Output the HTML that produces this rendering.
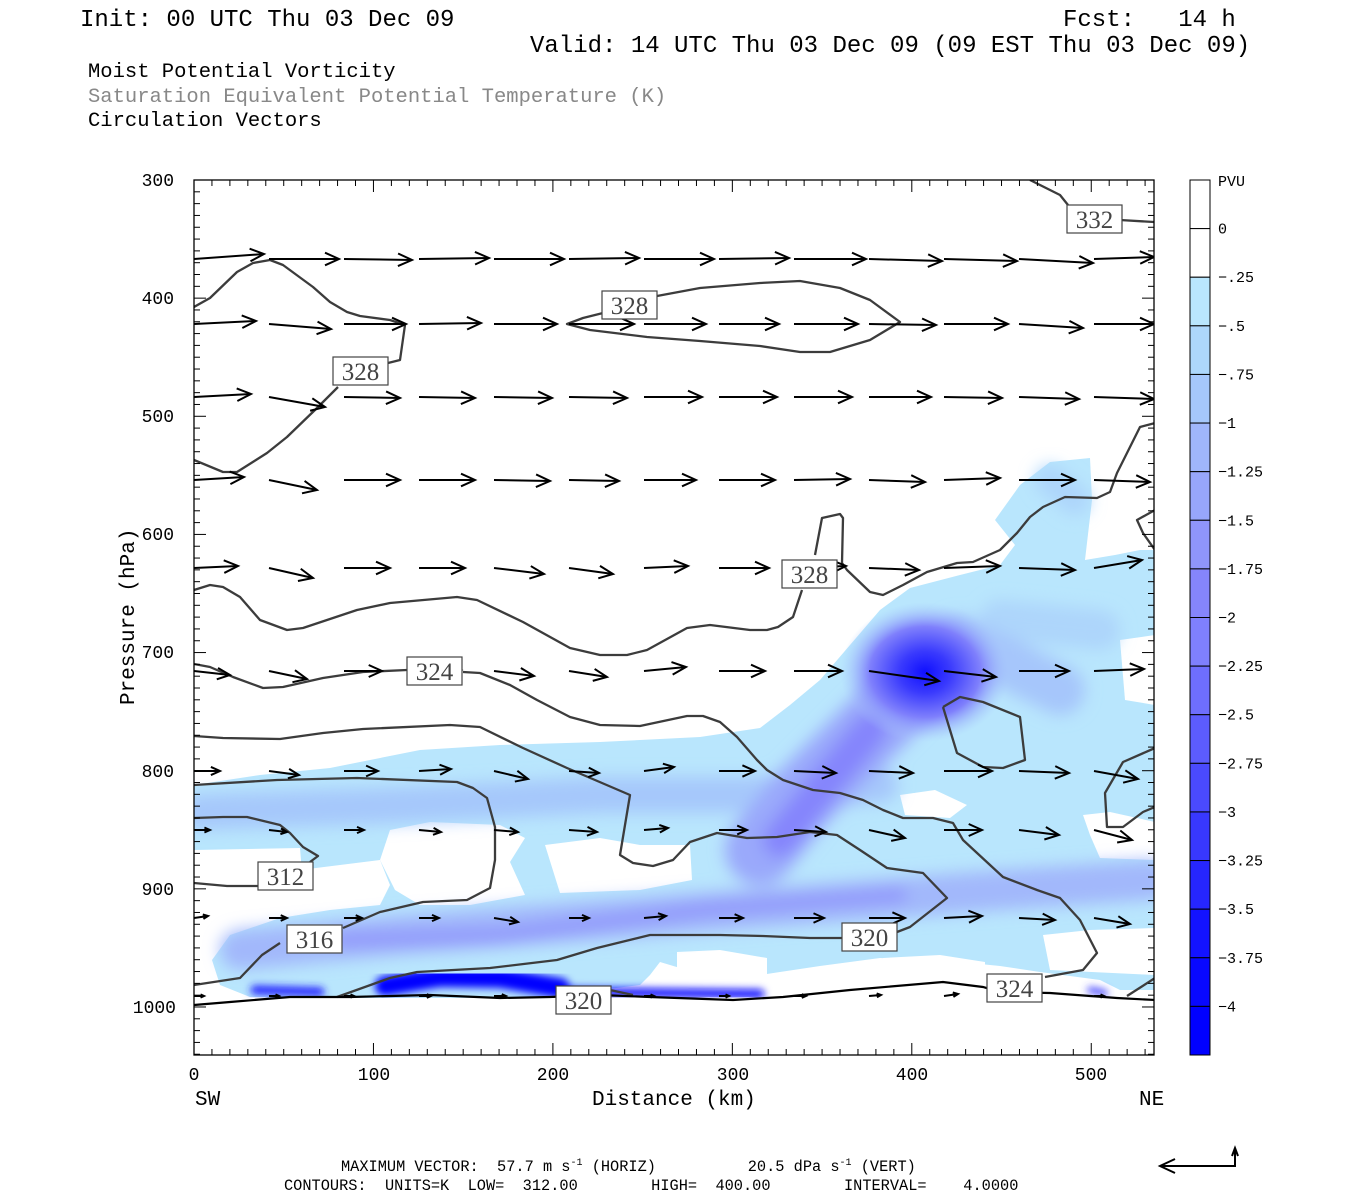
<!DOCTYPE html>
<html><head><meta charset="utf-8">
<style>
html,body{margin:0;padding:0;background:#fff;}
svg{display:block;}
.t{font-family:"Liberation Mono",monospace;}
.pre{white-space:pre;}
</style></head>
<body>
<svg id="s" width="1350" height="1200" xmlns="http://www.w3.org/2000/svg">
<defs>
<clipPath id="pc"><rect x="194" y="180" width="960" height="875"/></clipPath>
<filter id="b1" x="-20%" y="-20%" width="140%" height="140%"><feGaussianBlur stdDeviation="8"/></filter>
<filter id="b2" x="-20%" y="-20%" width="140%" height="140%"><feGaussianBlur stdDeviation="4"/></filter>
<radialGradient id="core" cx="0.5" cy="0.5" r="0.5">
<stop offset="0" stop-color="#1010ff"/><stop offset="0.3" stop-color="#3a3afd"/><stop offset="0.65" stop-color="#7f80fc"/><stop offset="1" stop-color="#a6c6fb" stop-opacity="0"/>
</radialGradient>
</defs>
<g class="t" fill="#000">
<text x="80" y="26" font-size="24">Init: 00 UTC Thu 03 Dec 09</text>
<text x="1063" y="26" font-size="24" class="pre">Fcst:   14 h</text>
<text x="530" y="52" font-size="24">Valid: 14 UTC Thu 03 Dec 09 (09 EST Thu 03 Dec 09)</text>
<text x="88" y="77" font-size="20.5">Moist Potential Vorticity</text>
<text x="88" y="102" font-size="20.5" fill="#888">Saturation Equivalent Potential Temperature (K)</text>
<text x="88" y="126" font-size="20.5">Circulation Vectors</text>
</g>
<g clip-path="url(#pc)">
<path fill="#b9e6fd" d="M194,785 L260,775 330,768 420,750 500,745 600,742 700,737 760,728 790,705 820,680 850,645 880,610 910,588 960,575 1000,565 1015,545 995,520 1020,485 1050,462 1090,458 1092,500 1085,560 1115,555 1140,550 1154,550 1154,990 1120,990 1100,980 1040,972 1000,966 960,962 920,960 880,958 850,962 820,966 780,972 740,978 700,978 680,968 660,962 650,975 640,985 600,990 560,995 500,998 400,998 300,998 250,997 220,985 212,960 230,935 280,918 330,910 380,905 390,885 380,860 300,870 240,880 194,885 Z"/>
<g fill="#fff">
<path d="M390,830 430,822 500,825 525,838 510,862 525,895 470,905 420,905 395,890 380,860 Z"/>
<path d="M545,845 600,838 640,845 690,845 692,880 640,890 560,893 Z"/>
<path d="M900,795 935,790 967,805 950,818 905,815 Z"/>
<path d="M1083,815 1110,812 1155,822 1155,860 1100,858 1090,835 Z"/>
<path d="M194,850 300,848 303,885 250,900 194,900 Z"/>
<path d="M1043,935 1090,930 1155,928 1155,975 1050,970 Z"/>
<path d="M883,958 940,955 985,962 985,982 890,982 Z"/>
<path d="M677,952 720,950 767,958 767,983 677,983 Z"/>
<path d="M1120,640 1155,635 1155,705 1125,700 Z"/>
<rect x="194" y="998" width="960" height="60"/>
</g>
<g filter="url(#b1)" fill="none" stroke-linecap="round">
<path d="M200,812 L400,805 600,795 750,795 880,785" stroke="#a6c8fb" stroke-width="36"/>
<path d="M240,950 L400,935 600,920 800,905 1000,890 1150,880" stroke="#a2b8fb" stroke-width="40"/>
<path d="M340,940 L500,935 700,910 900,895" stroke="#8f94fb" stroke-width="14"/>
<path d="M760,850 L800,800 850,750 900,700" stroke="#9aa9fb" stroke-width="70"/>
<path d="M780,840 L820,790 870,730" stroke="#8585fc" stroke-width="34"/>
<path d="M1050,480 L1075,500" stroke="#add5fb" stroke-width="30"/>
<path d="M1000,620 L1100,630" stroke="#add5fb" stroke-width="40"/>
<path d="M960,640 L1060,690" stroke="#a6c6fb" stroke-width="50"/>
</g>
<ellipse cx="925" cy="672" rx="85" ry="70" fill="url(#core)"/>
<g filter="url(#b2)" fill="none" stroke-linecap="round">
<path d="M255,990 L320,992" stroke="#2020ff" stroke-width="9"/>
<path d="M385,986 L440,977 500,978 560,988" stroke="#0000ff" stroke-width="20"/>
<path d="M560,992 L760,994" stroke="#1010ff" stroke-width="9"/>
<path d="M1090,990 L1105,993" stroke="#4040ff" stroke-width="6"/>
</g>
<rect x="194" y="999" width="960" height="60" fill="#fff"/>
<g fill="none" stroke="#3c3c3c" stroke-width="2.3" stroke-linejoin="round">
<polyline points="194,307 210,298 237,272 253,263 270,260 283,265 313,287 330,302 347,312 360,316 390,320 405,325 400,360 388,363"/>
<polyline points="338,387 317,408 287,437 267,453 237,472 223,472 194,460"/>
<polyline points="603,313 583,318 567,324 590,330 647,337 700,341 760,346 800,352 830,352 870,340 900,322 870,300 840,288 800,281 760,283 700,288 657,296"/>
<polyline points="1030,180 1060,195 1068,205"/><polyline points="1120,220 1154,222"/>
<polyline points="194,590 210,585 223,587 240,597 260,620 287,630 303,628 357,610 390,603 457,597 477,600 523,622 570,648 600,655 627,655 647,650 687,628 710,625 750,630 767,630 778,627 793,617 802,590"/>
<polyline points="815,555 822,518 840,514 843,518 842,563 847,570 870,592 883,595 903,585 927,572 957,563 973,562 1000,550 1017,533 1030,517 1043,507 1065,497 1097,498 1110,492 1117,473 1140,427 1155,423"/>
<polyline points="1155,510 1137,520 1143,533 1155,550"/>
<polyline points="194,664 210,667 233,677 263,688 283,687 323,678 363,672 407,670"/>
<polyline points="463,672 480,673 510,685 537,700 570,717 600,725 640,726 687,716 703,716 720,722 737,737 757,760 767,770 783,780 813,790 840,793 863,800 883,810 903,818 933,818 953,823 963,840 1003,877 1037,890 1060,898 1080,920 1097,953 1083,970 1045,977"/>
<polyline points="194,736 223,738 280,739 323,733 363,729 450,725 480,727 523,748 567,768 630,795 620,855 633,863 653,866 673,860 690,842 717,833 747,838 777,837 810,832 837,835 860,850 887,868 923,873 947,898 910,927 897,932"/>
<polyline points="842,938 810,938 763,936 720,935 650,935 597,948 557,960 490,968 417,972 390,978 337,997"/>
<polyline points="194,818 223,817 247,817 280,825 290,833 303,847 318,856 310,862"/>
<polyline points="258,886 227,886 194,883"/>
<polyline points="194,985 240,978 262,955 280,943"/>
<polyline points="343,928 380,912 423,902 467,900 490,888 495,860 495,827 487,798 473,788 457,782 357,778 277,780 194,785"/>
<polyline points="943,707 960,697 983,702 1020,717 1025,760 1003,768 983,767 957,753 943,707"/>
<polyline points="1155,748 1123,762 1105,793 1107,827 1123,827 1143,812 1155,807"/>
<polyline points="1127,996 1155,978"/>
<polyline points="587,992 610,990 633,995"/>
</g>
<polyline fill="none" stroke="#000" stroke-width="2.2" points="194,1005 230,1002 290,997 350,997 430,995 500,998 550,997 600,995 650,997 733,1000 783,997 850,990 943,982 983,987 1000,992 1050,993 1117,998 1155,1000"/>
<g id="arr" stroke="#000" stroke-width="2" fill="none"></g>
<g id="lab"></g>
</g>
<g id="axes" stroke="#000" fill="none"></g>
<g id="cb"></g>
<g class="t" fill="#000" font-size="18" text-anchor="end">
<text x="174" y="186">300</text><text x="174" y="304">400</text><text x="174" y="422">500</text><text x="174" y="540">600</text><text x="174" y="658">700</text><text x="174" y="777">800</text><text x="174" y="895">900</text><text x="176" y="1013">1000</text>
</g>
<g class="t" fill="#000" font-size="18" text-anchor="middle">
<text x="194" y="1080">0</text><text x="374" y="1080">100</text><text x="553" y="1080">200</text><text x="733" y="1080">300</text><text x="912" y="1080">400</text><text x="1091" y="1080">500</text>
</g>
<g class="t" fill="#000" font-size="21">
<text x="195" y="1105">SW</text><text x="1139" y="1105">NE</text>
<text x="592" y="1105">Distance (km)</text>
<text transform="translate(134,705) rotate(-90)">Pressure (hPa)</text>
</g>
<g class="t" fill="#000" font-size="15.3">
<text x="341" y="1171" class="pre">MAXIMUM VECTOR:  57.7 m s<tspan dy="-6" font-size="10">-1</tspan><tspan dy="6"> (HORIZ)          20.5 dPa s</tspan><tspan dy="-6" font-size="10">-1</tspan><tspan dy="6"> (VERT)</tspan></text>
<text x="284" y="1190" class="pre">CONTOURS:  UNITS=K  LOW=  312.00        HIGH=  400.00        INTERVAL=    4.0000</text>
</g>
<g stroke="#000" stroke-width="2" fill="none">
<polyline points="1235,1150 1235,1166 1160,1166"/>
<polyline points="1175,1159 1160,1166 1175,1173"/>
<polyline points="1232,1156 1235,1148 1238,1156"/>
</g>
</svg>
<script>
var NS="http://www.w3.org/2000/svg";
function el(p,t,a,txt){var e=document.createElementNS(NS,t);for(var k in a)e.setAttribute(k,a[k]);if(txt!=null)e.textContent=txt;p.appendChild(e);return e;}
var arr=document.getElementById("arr");
function A(x0,y0,x1,y1){
 el(arr,"line",{x1:x0,y1:y0,x2:x1,y2:y1});
 var dx=x1-x0,dy=y1-y0,L=Math.sqrt(dx*dx+dy*dy);if(L<1)return;
 var ux=dx/L,uy=dy/L,h=Math.min(14,L*0.35),w=h*0.45;
 el(arr,"polyline",{points:(x1-ux*h-uy*w)+","+(y1-uy*h+ux*w)+" "+x1+","+y1+" "+(x1-ux*h+uy*w)+","+(y1-uy*h-ux*w)});
}
var cols=[194,269,344,419,494,569,644,719,794,869,944,1019,1094];
var rows=[
 [259,[[70,-5],[70,0],[68,1],[70,-1],[70,0],[70,-1],[70,0],[70,-1],[72,0],[73,2],[73,2],[74,4],[60,-2]]],
 [324,[[62,-3],[62,5],[62,0],[62,-1],[63,0],[65,0],[62,0],[60,0],[64,0],[67,1],[64,0],[64,4],[60,0]]],
 [397,[[57,-3],[56,10],[56,1],[56,1],[58,1],[58,1],[58,0],[58,0],[58,0],[62,0],[58,1],[60,2],[60,2]]],
 [480,[[50,-3],[48,10],[56,0],[56,0],[56,1],[50,1],[52,0],[56,0],[56,-1],[56,2],[56,-2],[56,0],[56,2]]],
 [568,[[44,-2],[44,10],[46,0],[46,0],[50,6],[44,6],[44,-2],[50,0],[52,-2],[50,2],[56,-2],[56,2],[48,-8]]],
 [671,[[36,4],[38,8],[38,0],[42,-1],[40,5],[38,6],[42,-4],[46,0],[48,0],[70,10],[52,6],[50,0],[50,-2]]],
 [771,[[26,0],[30,4],[34,0],[32,-2],[34,8],[30,2],[30,-4],[36,0],[42,2],[44,2],[48,0],[50,2],[44,8]]],
 [830,[[16,0],[18,2],[20,0],[22,2],[24,2],[28,2],[24,-2],[28,0],[32,2],[36,8],[38,0],[40,5],[38,10]]],
 [918,[[14,-2],[18,0],[18,0],[20,0],[24,4],[20,0],[22,-2],[24,0],[30,0],[36,0],[38,-2],[36,2],[36,6]]],
 [996,[[10,0],[10,0],[10,0],[12,0],[12,0],[10,0],[10,0],[10,0],[12,0],[12,-1],[14,-2],[12,0],[10,0]]]
];
rows.forEach(function(r){var y=r[0];r[1].forEach(function(a,i){var x=cols[i];A(x,y,Math.min(x+a[0],1154),y+a[1]);});});
var lab=document.getElementById("lab");
[[1067,205,"332"],[602,291,"328"],[333,357,"328"],[782,560,"328"],[407,657,"324"],[258,862,"312"],[287,925,"316"],[842,923,"320"],[556,986,"320"],[987,974,"324"]].forEach(function(l){
 el(lab,"rect",{x:l[0],y:l[1],width:55,height:28,fill:"#fff",stroke:"#444","stroke-width":1.2});
 el(lab,"text",{x:l[0]+27.5,y:l[1]+23,"text-anchor":"middle","font-family":"Liberation Serif, serif","font-size":25,fill:"#444"},l[2]);
});
var ax=document.getElementById("axes");
el(ax,"rect",{x:194,y:180,width:960,height:875,"stroke-width":1.3});
for(var p=310;p<=1040;p+=10){var y=180+(p-300)*1.1814;var L=(p%100==0)?12:6;
 el(ax,"line",{x1:194,y1:y,x2:194+L,y2:y});el(ax,"line",{x1:1154,y1:y,x2:1154-L,y2:y});}
for(var k=10;k<=530;k+=10){var x=194+k*1.7945;var L=(k%100==0)?12:6;
 el(ax,"line",{x1:x,y1:1055,x2:x,y2:1055-L});el(ax,"line",{x1:x,y1:180,x2:x,y2:180+L});}
var cb=document.getElementById("cb");
var cols2=["#ffffff","#ffffff","#b9e6fd","#add7fb","#a5c7fb","#9fb6fb","#97a6fb","#8f95fb","#8585fc","#7f80fd","#6e6efd","#5c5cfd","#4a4afd","#3838fe","#2626fe","#1313ff","#0808ff","#0000ff"];
var h=875/18;
for(var i=0;i<18;i++){el(cb,"rect",{x:1190,y:180+i*h,width:20,height:h,fill:cols2[i],stroke:"#000","stroke-width":1});}
var labs=["0","\u2212.25","\u2212.5","\u2212.75","\u22121","\u22121.25","\u22121.5","\u22121.75","\u22122","\u22122.25","\u22122.5","\u22122.75","\u22123","\u22123.25","\u22123.5","\u22123.75","\u22124"];
el(cb,"text",{x:1218,y:186,"font-family":"Liberation Mono, monospace","font-size":15},"PVU");
labs.forEach(function(t,i){el(cb,"text",{x:1218,y:180+(i+1)*h+5,"font-family":"Liberation Mono, monospace","font-size":15},t);});
</script>
</body></html>
